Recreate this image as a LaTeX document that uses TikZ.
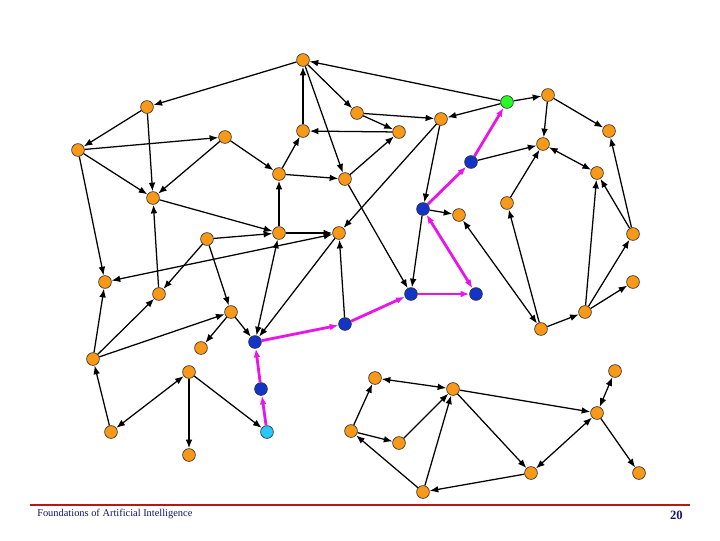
\documentclass[tikz,border=0pt]{standalone}
\usepackage{amsmath}
\usepackage{fontspec}
\setmainfont{Liberation Serif}
\usepackage{tikz}
\usetikzlibrary{arrows.meta}

\definecolor{nodeorange}{RGB}{250,152,24}
\definecolor{nodeblue}{RGB}{18,52,200}
\definecolor{nodegreen}{RGB}{40,250,40}
\definecolor{nodecyan}{RGB}{40,200,250}
\definecolor{pathpink}{RGB}{232,20,232}
\definecolor{footred}{RGB}{190,20,20}
\definecolor{footblue}{RGB}{20,20,110}

\tikzset{
  vtx/.style={circle,draw=black!80,line width=0.5pt,fill=nodeorange,minimum size=9.6pt,inner sep=0pt},
  vblue/.style={vtx,fill=nodeblue},
  vgoal/.style={vtx,fill=nodegreen},
  vstart/.style={vtx,fill=nodecyan},
  edge/.style={line width=0.95pt,-{Latex[length=6.5pt,width=5pt]}},
  dedge/.style={line width=0.95pt,{Latex[length=6.5pt,width=5pt]}-{Latex[length=6.5pt,width=5pt]}},
  route/.style={line width=2.1pt,pathpink,-{Latex[length=6.5pt,width=5pt]}},
  droute/.style={line width=2.1pt,pathpink,{Latex[length=6.5pt,width=5pt]}-{Latex[length=6.5pt,width=5pt]}}
}

\begin{document}
\begin{tikzpicture}[x=0.75pt,y=0.75pt,yscale=-1,xscale=1]
\useasboundingbox (0,0) rectangle (720,540);

    %Shape: Circles, upper left part
    \node [vtx] (va) at (303,60) {};
    \node [vtx] (vb) at (147,107) {};
    \node [vtx] (vc) at (78,150) {};
    \node [vtx] (vd) at (225,137) {};
    \node [vtx] (ve) at (303,131) {};
    \node [vtx] (vf) at (357,113) {};
    \node [vtx] (vg) at (399,132) {};
    \node [vtx] (vh) at (441,119) {};
    \node [vgoal] (vi) at (507,102) {};
    \node [vtx] (vj) at (548,95) {};
    \node [vtx] (vk) at (609,131) {};
    \node [vtx] (vl) at (543,144) {};
    \node [vblue] (vm) at (471,162) {};
    \node [vtx] (vn) at (279,174) {};
    \node [vtx] (vo) at (345,179) {};
    \node [vtx] (vp) at (153,198) {};
    \node [vblue] (vq) at (423,209) {};
    \node [vtx] (vr) at (459,215) {};
    \node [vtx] (vs) at (507,203) {};
    \node [vtx] (vt) at (597,173) {};
    \node [vtx] (vu) at (207,239) {};
    \node [vtx] (vv) at (279,233) {};
    \node [vtx] (vw) at (339,233) {};
    \node [vtx] (vx) at (633,234) {};
    %Shape: Circles, middle part
    \node [vtx] (vy) at (105,282) {};
    \node [vtx] (vz) at (159,294) {};
    \node [vblue] (vaa) at (411,294) {};
    \node [vblue] (vab) at (476,294) {};
    \node [vtx] (vac) at (633,282) {};
    \node [vtx] (vad) at (231,312) {};
    \node [vblue] (vae) at (345,324) {};
    \node [vtx] (vaf) at (585,312) {};
    \node [vtx] (vag) at (541,329) {};
    \node [vblue] (vah) at (255,342) {};
    \node [vtx] (vai) at (201,348) {};
    \node [vtx] (vaj) at (93,359) {};
    \node [vtx] (vak) at (189,372) {};
    \node [vblue] (val) at (261,389) {};
    %Shape: Circles, lower part
    \node [vtx] (vam) at (615,371) {};
    \node [vtx] (van) at (375,378) {};
    \node [vtx] (vao) at (453,389) {};
    \node [vtx] (vap) at (597,413) {};
    \node [vtx] (vaq) at (111,432) {};
    \node [vstart] (var) at (267,432) {};
    \node [vtx] (vas) at (351,431) {};
    \node [vtx] (vat) at (399,443) {};
    \node [vtx] (vau) at (189,455) {};
    \node [vtx] (vav) at (531,473) {};
    \node [vtx] (vaw) at (639,473) {};
    \node [vtx] (vax) at (423,492) {};

    %Straight Lines
    \draw [edge] (va) -- (vb);
    \draw [edge] (vb) -- (vc);
    \draw [edge] (vb) -- (vp);
    \draw [edge] (vc) -- (vd);
    \draw [edge] (vd) -- (vp);
    \draw [edge] (vc) -- (vp);
    \draw [edge] (vd) -- (vn);
    \draw [edge] (vn) -- (ve);
    \draw [edge] (ve) -- (va);
    \draw [edge] (vv) -- (vn);
    \draw [edge] (vp) -- (vv);
    \draw [edge] (vc) -- (vy);
    \draw [edge] (vi) -- (va);
    \draw [edge] (va) -- (vf);
    \draw [edge] (va) -- (vo);
    \draw [edge] (vf) -- (vg);
    \draw [edge] (vf) -- (vh);
    \draw [edge] (vg) -- (ve);
    \draw [edge] (vo) -- (vg);
    \draw [edge] (vi) -- (vh);
    \draw [edge] (vh) -- (vw);
    \draw [edge] (vh) -- (vq);
    \draw [edge] (vn) -- (vo);
    \draw [edge] (vq) -- (vr);
    \draw [edge] (vm) -- (vl);
    \draw [edge] (vo) -- (vaa);
    \draw [edge] (vq) -- (vaa);
    \draw [edge] (vae) -- (vw);
    \draw [edge] (vw) -- (vah);
    \draw [edge] (vu) -- (vv);
    \draw [edge] (vv) -- (vw);
    \draw [edge] (vu) -- (vz);
    \draw [edge] (vu) -- (vad);
    \draw [edge] (vad) -- (vai);
    \draw [edge] (vad) -- (vah);
    \draw [edge] (vaj) -- (vz);
    \draw [edge] (vaj) -- (vad);
    \draw [edge] (vaj) -- (vy);
    \draw [edge] (vaq) -- (vaj);
    \draw [edge] (vak) -- (vau);
    \draw [edge] (vak) -- (var);
    \draw [edge] (vz) -- (vp);
    \draw [edge] (vi) -- (vj);
    \draw [edge] (vj) -- (vl);
    \draw [edge] (vj) -- (vk);
    \draw [edge] (vs) -- (vl);
    \draw [edge] (vag) -- (vs);
    \draw [edge] (vag) -- (vaf);
    \draw [edge] (vaf) -- (vt);
    \draw [edge] (vaf) -- (vx);
    \draw [edge] (vaf) -- (vac);
    \draw [edge] (vx) -- (vk);
    \draw [edge] (vx) -- (vt);
    \draw [edge] (vas) -- (van);
    \draw [edge] (vas) -- (vat);
    \draw [edge] (vat) -- (vao);
    \draw [edge] (vax) -- (vas);
    \draw [edge] (vax) -- (vao);
    \draw [edge] (vao) -- (vav);
    \draw [edge] (vao) -- (vap);
    \draw [edge] (vav) -- (vax);
    \draw [edge] (vap) -- (vaw);
    %Straight Lines, both ways
    \draw [dedge] (vy) -- (vw);
    \draw [dedge] (vv) -- (vah);
    \draw [dedge] (vak) -- (vaq);
    \draw [dedge] (vl) -- (vt);
    \draw [dedge] (vr) -- (vag);
    \draw [dedge] (van) -- (vao);
    \draw [dedge] (vav) -- (vap);
    \draw [dedge] (vam) -- (vap);
    %Straight Lines, the path found
    \draw [route] (var) -- (val);
    \draw [route] (val) -- (vah);
    \draw [route] (vah) -- (vae);
    \draw [route] (vae) -- (vaa);
    \draw [route] (vaa) -- (vab);
    \draw [droute] (vab) -- (vq);
    \draw [route] (vq) -- (vm);
    \draw [route] (vm) -- (vi);

    % Footer
    \draw [footred,line width=1.6pt] (30,505) -- (690,505);
    % Text Node
    \node [anchor=west,inner sep=0pt,text=footblue,font=\fontsize{7.8}{8}\selectfont] (foottext) at (37,514) {Foundations of Artificial Intelligence};
    % Text Node
    \node [anchor=east,inner sep=0pt,text=footblue,font=\fontsize{9.5}{10}\selectfont\bfseries] (pagenum) at (683,515) {20};
\end{tikzpicture}
\end{document}
